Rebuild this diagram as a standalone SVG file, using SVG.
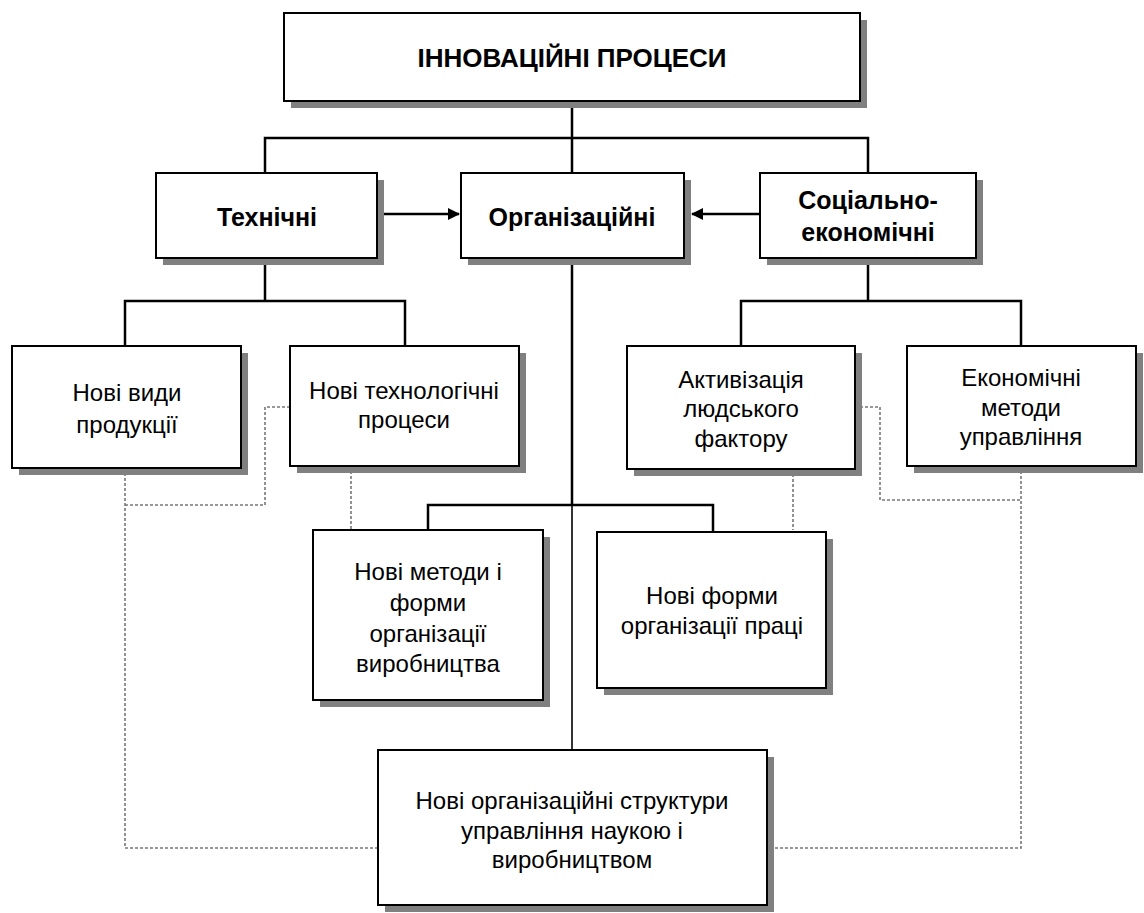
<svg xmlns="http://www.w3.org/2000/svg" width="1144" height="913" viewBox="0 0 1144 913">
<style>
.box{fill:#fff;stroke:#000;stroke-width:2}
.sh{fill:#808080}
.t{font-family:"Liberation Sans",Arial,sans-serif;font-size:24px;fill:#000;text-anchor:middle}
.b{font-weight:bold;font-size:25px}
.ln{fill:none;stroke:#000;stroke-width:2.5}
.thin{fill:none;stroke:#000;stroke-width:1.6}
.dash{fill:none;stroke:#777;stroke-width:1.6;stroke-dasharray:3 2}
</style>
<defs>
<marker id="arr" markerWidth="12" markerHeight="12" refX="11" refY="6" orient="auto" markerUnits="userSpaceOnUse">
<path d="M0,0 L12,6 L0,12 Z" fill="#000"/>
</marker>
</defs>
<rect width="1144" height="913" fill="#fff"/>
<g id="connectors">
<path class="ln" d="M572,101 V173 M265,173 V138 H868 V173"/>
<path class="ln" d="M265,258 V301 M125,346 V301 H405 V346"/>
<path class="ln" d="M868,258 V301 M741,346 V301 H1021 V346"/>
<path class="ln" d="M572,258 V505 M428,530 V505 H713 V532"/>
<path class="thin" d="M572,505 V750"/>
<path class="ln" d="M383,214 H459" marker-end="url(#arr)"/>
<path class="ln" d="M760,214 H692" marker-end="url(#arr)"/>
<path class="dash" d="M125,468 V848 H378 M125,505 H265 V407 H290"/>
<path class="dash" d="M351,466 V530"/>
<path class="dash" d="M855,407 H880 V500 H1021 M1021,466 V848 H767"/>
<path class="dash" d="M793,469 V530"/>
</g>
<g id="n-top">
<rect class="sh" x="291" y="20" width="576" height="88"/>
<rect class="box" x="284" y="13" width="576" height="88"/>
<text class="t b" x="572" y="67" style="font-size:26px">ІННОВАЦІЙНІ ПРОЦЕСИ</text>
</g>
<g id="n-tech">
<rect class="sh" x="163" y="180" width="221" height="85"/>
<rect class="box" x="156" y="173" width="221" height="85"/>
<text class="t b" x="267" y="226">Технічні</text>
</g>
<g id="n-org">
<rect class="sh" x="468" y="180" width="223" height="85"/>
<rect class="box" x="461" y="173" width="223" height="85"/>
<text class="t b" x="572" y="226">Організаційні</text>
</g>
<g id="n-soc">
<rect class="sh" x="767" y="180" width="216" height="85"/>
<rect class="box" x="760" y="173" width="216" height="85"/>
<text class="t b" x="868" y="209">Соціально-</text>
<text class="t b" x="868" y="241">економічні</text>
</g>
<g id="n-prod">
<rect class="sh" x="19" y="353" width="229" height="122"/>
<rect class="box" x="12" y="346" width="229" height="122"/>
<text class="t" x="127" y="401">Нові види</text>
<text class="t" x="127" y="433">продукції</text>
</g>
<g id="n-techproc">
<rect class="sh" x="297" y="353" width="229" height="120"/>
<rect class="box" x="290" y="346" width="229" height="120"/>
<text class="t" x="404" y="399">Нові технологічні</text>
<text class="t" x="404" y="428">процеси</text>
</g>
<g id="n-activ">
<rect class="sh" x="634" y="353" width="228" height="123"/>
<rect class="box" x="627" y="346" width="228" height="123"/>
<text class="t" x="741" y="388">Активізація</text>
<text class="t" x="741" y="417">людського</text>
<text class="t" x="741" y="447">фактору</text>
</g>
<g id="n-econ">
<rect class="sh" x="914" y="353" width="229" height="120"/>
<rect class="box" x="907" y="346" width="229" height="120"/>
<text class="t" x="1021" y="386">Економічні</text>
<text class="t" x="1021" y="416">методи</text>
<text class="t" x="1021" y="445">управління</text>
</g>
<g id="n-methods">
<rect class="sh" x="320" y="537" width="230" height="170"/>
<rect class="box" x="313" y="530" width="230" height="170"/>
<text class="t" x="428" y="580">Нові методи і</text>
<text class="t" x="428" y="611">форми</text>
<text class="t" x="428" y="642">організації</text>
<text class="t" x="428" y="672">виробництва</text>
</g>
<g id="n-forms">
<rect class="sh" x="604" y="539" width="229" height="156"/>
<rect class="box" x="597" y="532" width="229" height="156"/>
<text class="t" x="712" y="604">Нові форми</text>
<text class="t" x="712" y="634">організації праці</text>
</g>
<g id="n-struct">
<rect class="sh" x="385" y="757" width="389" height="155"/>
<rect class="box" x="378" y="750" width="389" height="155"/>
<text class="t" x="572" y="809">Нові організаційні структури</text>
<text class="t" x="572" y="839">управління наукою і</text>
<text class="t" x="572" y="868">виробництвом</text>
</g>
</svg>
